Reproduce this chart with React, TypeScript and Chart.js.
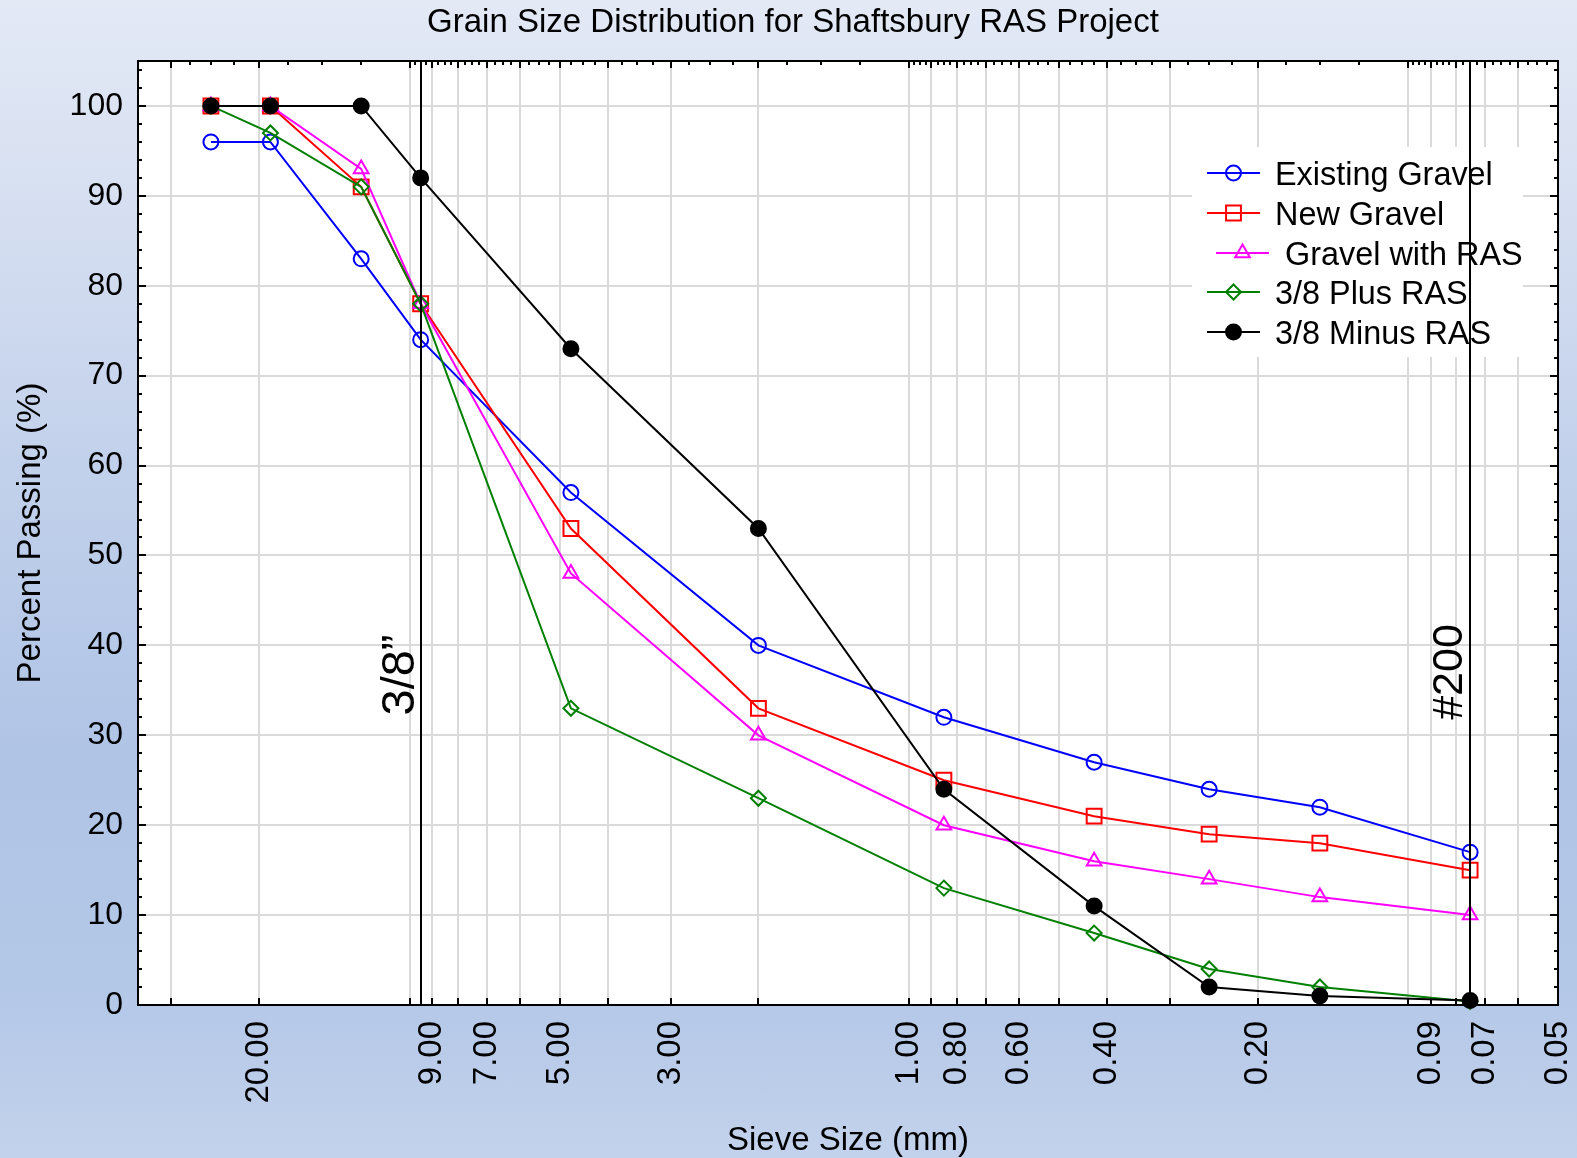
import React, { useEffect, useRef } from 'react';
import { Chart, registerables } from 'chart.js';

Chart.register(...registerables);

const FONT = "'Liberation Sans', Arial, Helvetica, sans-serif";

// ---- data ----
const sieveSizes = [25, 19, 12.5, 9.5, 4.75, 2.0, 0.85, 0.425, 0.25, 0.15, 0.075];
const existingGravel = [96, 96, 83, 74, 57, 40, 32, 27, 24, 22, 17];
const newGravel = [100, 100, 91, 78, 53, 33, 25, 21, 19, 18, 15];
const gravelWithRAS = [100, 100, 93, 78, 48, 30, 20, 16, 14, 12, 10];
const plusRAS = [100, 97, 91, 78, 33, 23, 13, 8, 4, 2, 0.4];
const minusRAS = [100, 100, 100, 92, 73, 53, 24, 11, 2, 1, 0.5];
const seriesNames = ['Existing Gravel', 'New Gravel', 'Gravel with RAS', '3/8 Plus RAS', '3/8 Minus RAS'];

const xGridValues = [30, 20, 10, 9, 8, 7, 6, 5, 4, 3, 2, 1, 0.9, 0.8, 0.7, 0.6, 0.5, 0.4, 0.3, 0.2, 0.1, 0.09, 0.08, 0.07, 0.06, 0.05];
const xLabeledValues = [20, 9, 7, 5, 3, 1, 0.8, 0.6, 0.4, 0.2, 0.09, 0.07, 0.05];
const yTickValues = [0, 10, 20, 30, 40, 50, 60, 70, 80, 90, 100];
const referenceSizes = [9.5, 0.075];
const referenceLabels = ['3/8”', '#200'];

const chartTitle = 'Grain Size Distribution for Shaftsbury RAS Project';
const xTitle = 'Sieve Size (mm)';
const yTitle = 'Percent Passing (%)';

// ---- styles ----
const seriesStyles = [
  { color: '#0000ff', point: 'circle', radius: 7.5, filled: false, order: 5 },
  { color: '#ff0000', point: 'rect', radius: 10.5, filled: false, order: 4 },
  { color: '#ff00ff', point: 'triangle', radius: 8.5, filled: false, order: 3 },
  { color: '#008000', point: 'rectRot', radius: 7.5, filled: false, order: 2 },
  { color: '#000000', point: 'circle', radius: 7.5, filled: true, order: 1 },
];

function drawMarker(ctx: CanvasRenderingContext2D, style: string, x: number, y: number, r: number, color: string, filled: boolean) {
  ctx.save();
  ctx.strokeStyle = color;
  ctx.fillStyle = color;
  ctx.lineWidth = 2;
  ctx.beginPath();
  if (style === 'circle') {
    ctx.arc(x, y, r, 0, Math.PI * 2);
  } else if (style === 'rect') {
    const s = r * Math.SQRT1_2;
    ctx.rect(x - s, y - s, 2 * s, 2 * s);
  } else if (style === 'triangle') {
    let a = 0;
    ctx.moveTo(x + Math.sin(a) * r, y - Math.cos(a) * r);
    a += (2 * Math.PI) / 3;
    ctx.lineTo(x + Math.sin(a) * r, y - Math.cos(a) * r);
    a += (2 * Math.PI) / 3;
    ctx.lineTo(x + Math.sin(a) * r, y - Math.cos(a) * r);
    ctx.closePath();
  } else if (style === 'rectRot') {
    ctx.moveTo(x, y - r);
    ctx.lineTo(x + r, y);
    ctx.lineTo(x, y + r);
    ctx.lineTo(x - r, y);
    ctx.closePath();
  }
  if (filled) ctx.fill();
  ctx.stroke();
  ctx.restore();
}

const decorPlugin = {
  id: 'decor',
  beforeDraw(chart: any) {
    const { ctx, chartArea: a } = chart;
    ctx.save();
    ctx.fillStyle = '#ffffff';
    ctx.fillRect(a.left, a.top, a.right - a.left, a.bottom - a.top);
    ctx.restore();
  },
  beforeDatasetsDraw(chart: any) {
    const { ctx, chartArea: a, scales } = chart;
    const xs = scales.x;
    const ys = scales.y;
    ctx.save();
    // legend background
    ctx.fillStyle = '#ffffff';
    ctx.fillRect(1192, 147, 331, 210);

    ctx.strokeStyle = '#000';
    ctx.lineWidth = 2;
    ctx.beginPath();
    // bottom / top major ticks
    for (const v of xGridValues) {
      const px = Math.round(xs.getPixelForValue(v));
      ctx.moveTo(px, a.bottom);
      ctx.lineTo(px, a.bottom - 7);
      ctx.moveTo(px, a.top);
      ctx.lineTo(px, a.top + 7);
    }
    // left / right ticks
    for (let v = 2; v <= 104; v += 2) {
      const py = Math.round(ys.getPixelForValue(v));
      const len = v % 10 === 0 ? 8 : 4;
      ctx.moveTo(a.left, py);
      ctx.lineTo(a.left + len, py);
      ctx.moveTo(a.right, py);
      ctx.lineTo(a.right - len, py);
    }
    ctx.stroke();
    // top minor ticks (quarters)
    ctx.beginPath();
    for (let i = 0; i < xGridValues.length - 1; i++) {
      const hi = xGridValues[i];
      const lo = xGridValues[i + 1];
      for (let k = 1; k <= 3; k++) {
        const v = lo + ((hi - lo) * k) / 4;
        const px = Math.round(xs.getPixelForValue(v));
        ctx.moveTo(px, a.top);
        ctx.lineTo(px, a.top + 4);
      }
    }
    ctx.stroke();
    // border
    ctx.strokeRect(a.left, a.top, a.right - a.left, a.bottom - a.top);
    ctx.restore();
  },
  afterDatasetsDraw(chart: any) {
    const { ctx, chartArea: a, scales } = chart;
    const xs = scales.x;
    ctx.save();
    // reference lines
    ctx.strokeStyle = '#000';
    ctx.lineWidth = 2;
    const offsets = [7, 8];
    const centers = [675, 672];
    const sizes = [47, 43];
    referenceSizes.forEach((s, i) => {
      const px = Math.round(xs.getPixelForValue(s));
      ctx.beginPath();
      ctx.moveTo(px, a.top + 4);
      ctx.lineTo(px, a.bottom);
      ctx.stroke();
      ctx.save();
      ctx.translate(px - offsets[i], centers[i]);
      ctx.rotate(-Math.PI / 2);
      ctx.font = `${sizes[i]}px ${FONT}`;
      ctx.fillStyle = '#000';
      ctx.textAlign = 'center';
      ctx.textBaseline = 'alphabetic';
      ctx.fillText(referenceLabels[i], 0, 0);
      ctx.restore();
    });
    // legend entries
    const rowsY = [173, 213, 253, 292, 332];
    ctx.font = `32.4px ${FONT}`;
    ctx.textAlign = 'left';
    ctx.textBaseline = 'alphabetic';
    seriesNames.forEach((name, i) => {
      const st = seriesStyles[i];
      const shift = i === 2 ? 9 : 0;
      const y = rowsY[i];
      const x0 = 1207 + shift;
      const x1 = 1260 + shift;
      ctx.strokeStyle = st.color;
      ctx.lineWidth = 2;
      ctx.beginPath();
      ctx.moveTo(x0, y);
      ctx.lineTo(x1, y);
      ctx.stroke();
      drawMarker(ctx, st.point, (x0 + x1) / 2, y, st.radius, st.color, st.filled);
      ctx.fillStyle = '#000';
      ctx.fillText(name, 1275 + shift + (i === 2 ? 1 : 0), y + 12);
    });
    ctx.restore();
  },
  afterDraw(chart: any) {
    const { ctx } = chart;
    ctx.save();
    ctx.fillStyle = '#000';
    ctx.textAlign = 'center';
    ctx.textBaseline = 'alphabetic';
    ctx.font = `33px ${FONT}`;
    ctx.fillText(chartTitle, 793, 32);
    ctx.fillText(xTitle, 848, 1150);
    ctx.save();
    ctx.translate(40, 533);
    ctx.rotate(-Math.PI / 2);
    ctx.fillText(yTitle, 0, 0);
    ctx.restore();
    ctx.restore();
  },
};

export default function App() {
  const canvasRef = useRef<HTMLCanvasElement | null>(null);

  useEffect(() => {
    if (!canvasRef.current) return;
    const allSeries = [existingGravel, newGravel, gravelWithRAS, plusRAS, minusRAS];
    const datasets = allSeries.map((vals, i) => {
      const st = seriesStyles[i];
      return {
        label: seriesNames[i],
        data: sieveSizes.map((s, j) => ({ x: s, y: vals[j] })),
        borderColor: st.color,
        backgroundColor: st.filled ? st.color : 'rgba(0,0,0,0)',
        pointStyle: st.point,
        pointRadius: st.radius,
        pointBorderWidth: 2,
        pointBorderColor: st.color,
        pointBackgroundColor: st.filled ? st.color : 'rgba(0,0,0,0)',
        borderWidth: 2,
        tension: 0,
        fill: false,
        clip: false,
        order: st.order,
      };
    });

    const chart = new Chart(canvasRef.current, {
      type: 'line',
      data: { datasets },
      options: {
        responsive: false,
        animation: false,
        devicePixelRatio: 1,
        layout: { padding: { left: 0, top: 61, right: 19, bottom: 0 } },
        plugins: {
          legend: { display: false },
          tooltip: { enabled: false },
          title: { display: false },
        },
        scales: {
          x: {
            type: 'logarithmic',
            reverse: true,
            min: 0.05,
            max: 35,
            afterBuildTicks: (scale: any) => {
              scale.ticks = xGridValues.map((v) => ({ value: v }));
            },
            afterFit: (scale: any) => {
              scale.height = 153;
              scale.paddingLeft = 0;
              scale.paddingRight = 0;
            },
            grid: { color: '#dadada', lineWidth: 2, drawTicks: false },
            border: { display: false },
            ticks: {
              autoSkip: false,
              minRotation: 90,
              maxRotation: 90,
              padding: 16,
              color: '#000',
              font: { family: FONT, size: 33 },
              callback: (value: any) => {
                const v = Number(value);
                return xLabeledValues.some((l) => Math.abs(l - v) < 1e-9) ? v.toFixed(2) : '';
              },
            },
          },
          y: {
            type: 'linear',
            min: 0,
            max: 105,
            afterBuildTicks: (scale: any) => {
              scale.ticks = yTickValues.map((v) => ({ value: v }));
            },
            afterFit: (scale: any) => {
              scale.width = 138;
              scale.paddingTop = 0;
              scale.paddingBottom = 0;
            },
            grid: { color: '#dadada', lineWidth: 2, drawTicks: false },
            border: { display: false },
            ticks: {
              padding: 15,
              color: '#000',
              font: { family: FONT, size: 32 },
              callback: (value: any) => String(value),
            },
          },
        },
      } as any,
      plugins: [decorPlugin],
    });
    return () => chart.destroy();
  }, []);

  return (
    <div
      style={{
        position: 'fixed',
        left: 0,
        top: 0,
        width: 1577,
        height: 1158,
        background:
          'linear-gradient(180deg, #e3e9f5 0%, #d6dff1 18%, #c2d1eb 40%, #b0c4e6 65%, #b3c7e7 85%, #c3d2ec 100%)',
      }}
    >
      <canvas ref={canvasRef} width={1577} height={1158} style={{ display: 'block' }} />
    </div>
  );
}
